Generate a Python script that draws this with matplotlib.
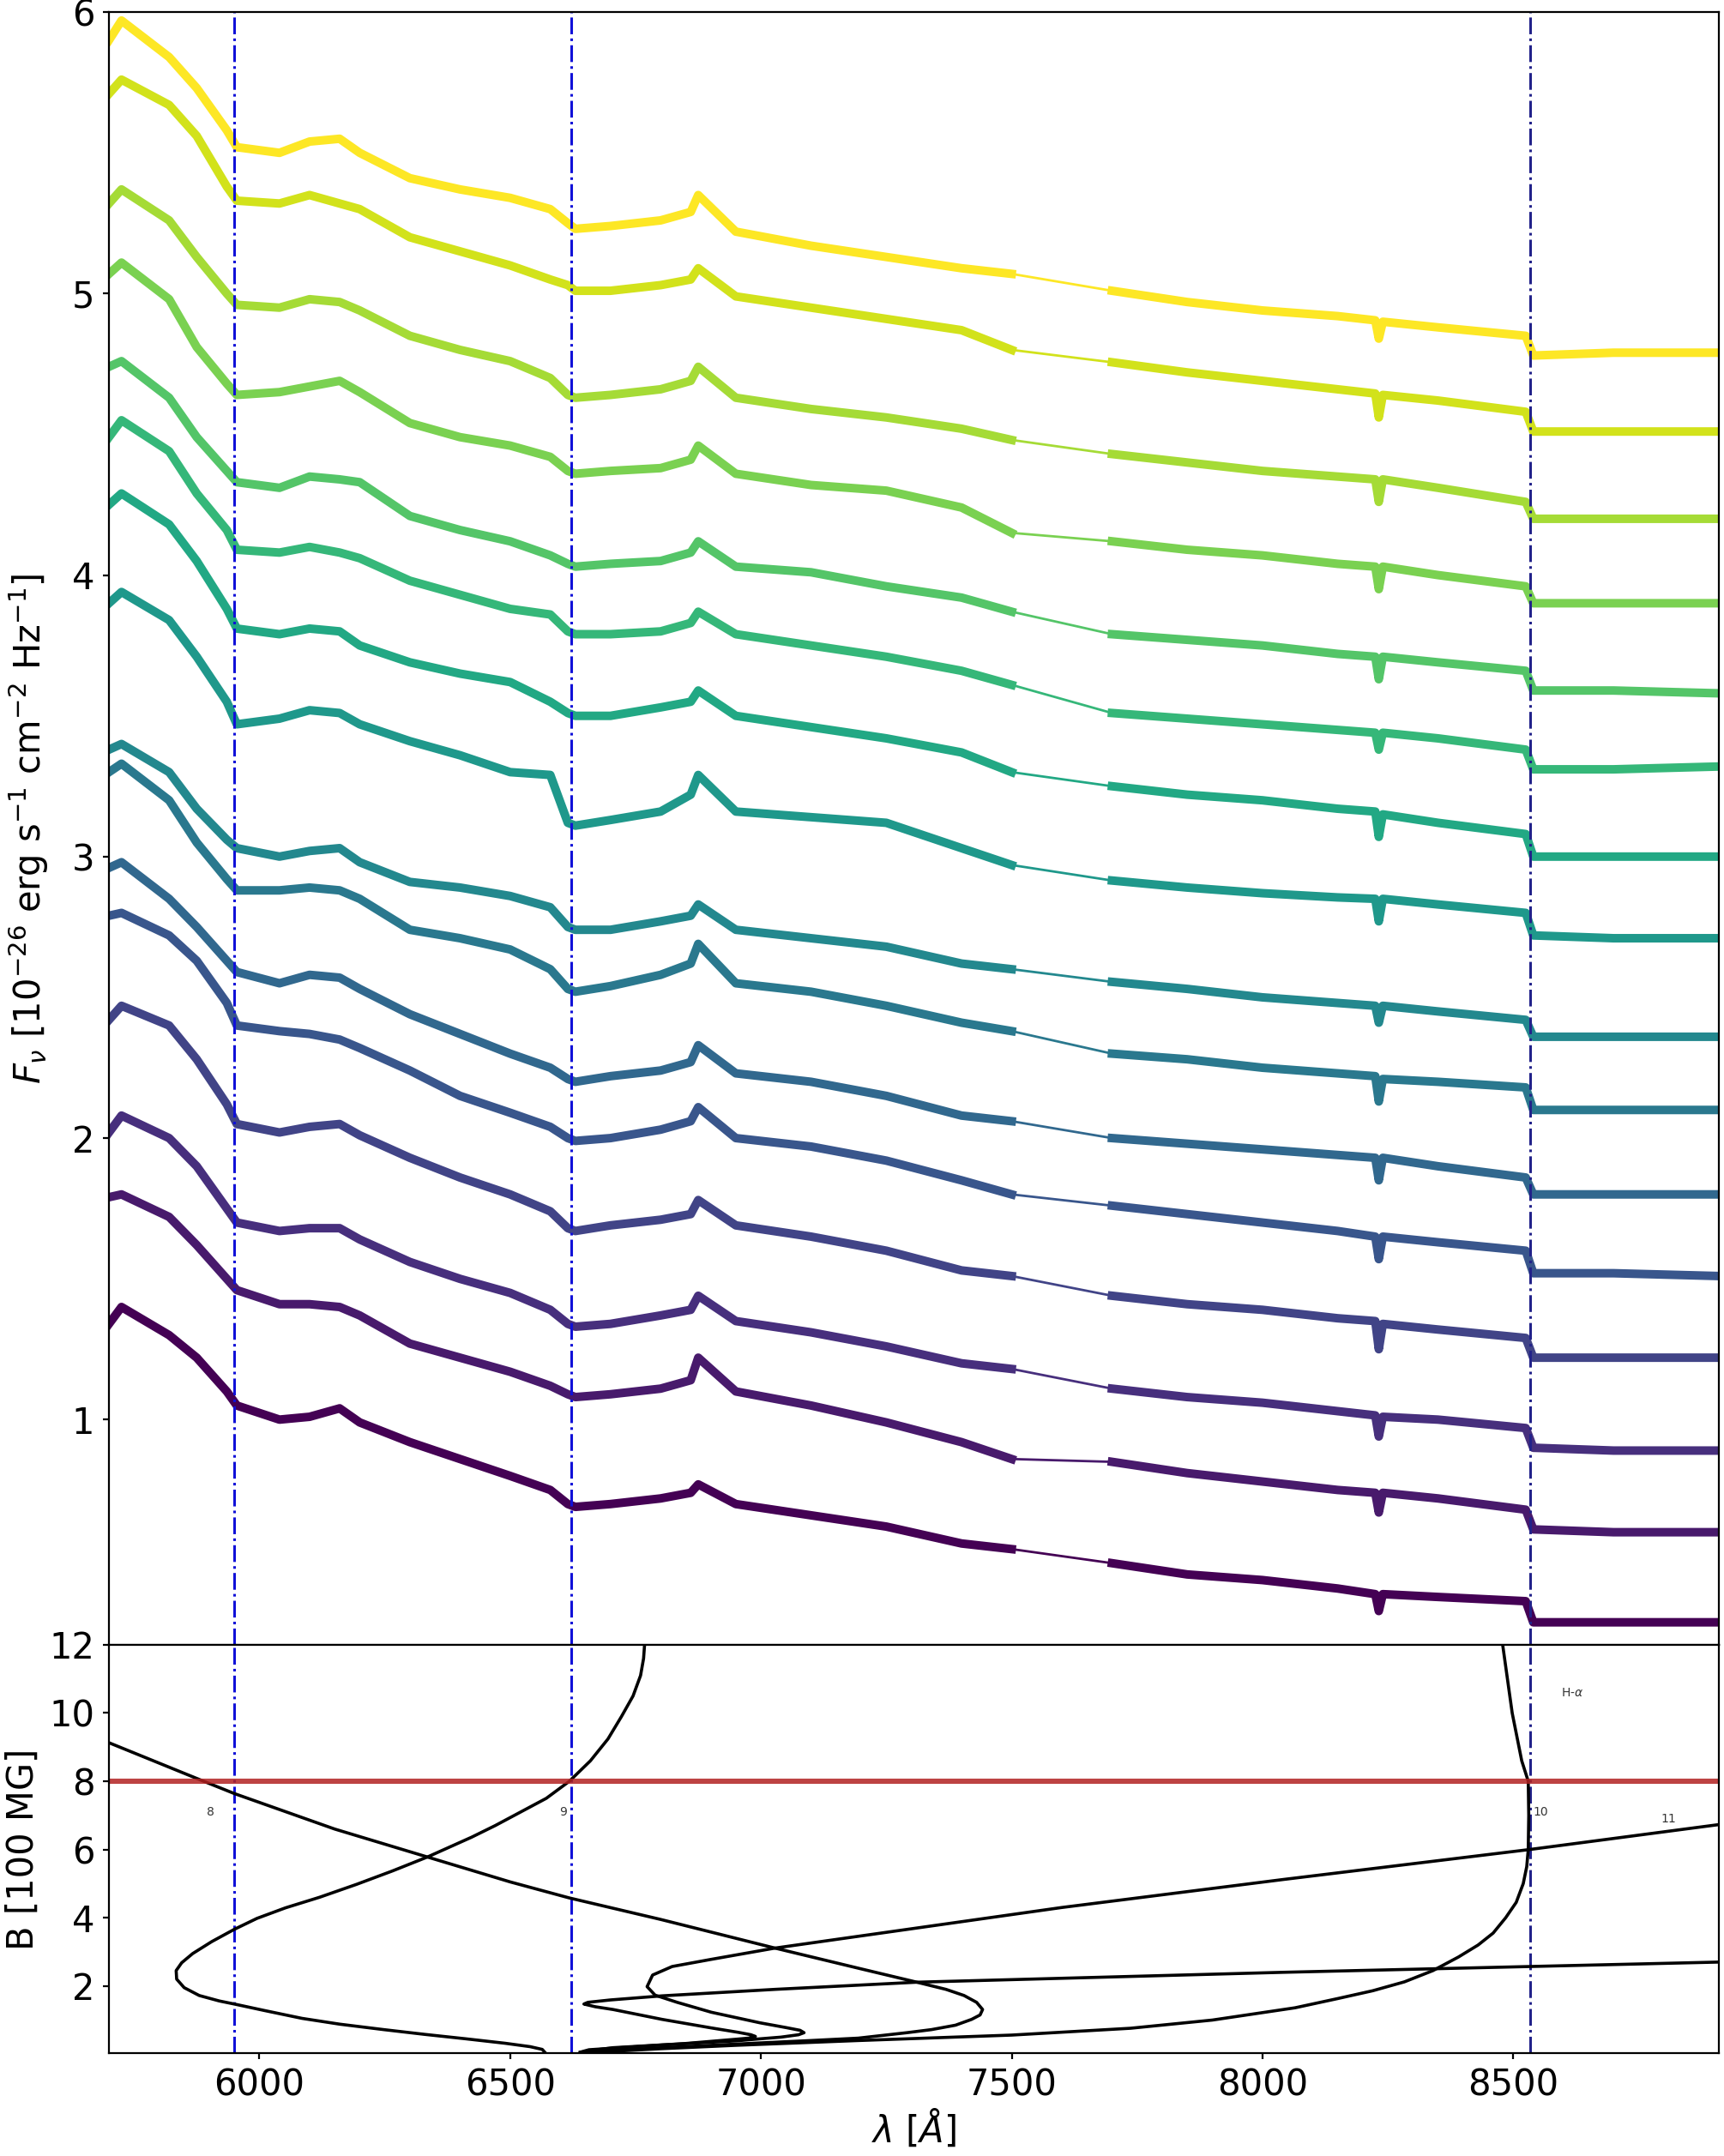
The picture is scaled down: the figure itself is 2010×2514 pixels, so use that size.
import matplotlib.pyplot as plt
import numpy as np

# wavelength grid of the spectra [A]
wave = [5700, 5725, 5820, 5875, 5935, 5955, 6040, 6100, 6160, 6200, 6300, 6400,
        6500, 6580, 6615, 6630, 6700, 6800, 6860, 6875, 6950, 7100, 7250, 7400,
        7500, 7700, 7850, 8000, 8150, 8225, 8232, 8240, 8350, 8525, 8540, 8700, 8910]

# offset spectra, bottom (first) to top (last)
s0 = [1.34, 1.40, 1.30, 1.22, 1.10, 1.05, 1.00, 1.01, 1.04, 0.99, 0.92, 0.86, 0.80, 0.75, 0.70, 0.69, 0.70, 0.72, 0.74, 0.77, 0.70, 0.66, 0.62, 0.56, 0.54, 0.49, 0.45, 0.43, 0.40, 0.38, 0.32, 0.38, 0.37, 0.355, 0.28, 0.28, 0.28]
s1 = [1.79, 1.80, 1.72, 1.62, 1.50, 1.46, 1.41, 1.41, 1.40, 1.37, 1.27, 1.22, 1.17, 1.12, 1.09, 1.08, 1.09, 1.11, 1.14, 1.22, 1.10, 1.05, 0.99, 0.92, 0.86, 0.85, 0.81, 0.78, 0.75, 0.74, 0.67, 0.74, 0.72, 0.68, 0.61, 0.60, 0.60]
s2 = [2.02, 2.08, 2.00, 1.90, 1.75, 1.70, 1.67, 1.68, 1.68, 1.64, 1.56, 1.50, 1.45, 1.39, 1.34, 1.33, 1.34, 1.37, 1.39, 1.44, 1.35, 1.31, 1.26, 1.20, 1.18, 1.11, 1.08, 1.06, 1.03, 1.015, 0.94, 1.01, 1.00, 0.97, 0.90, 0.89, 0.89]
s3 = [2.42, 2.47, 2.40, 2.28, 2.12, 2.05, 2.02, 2.04, 2.05, 2.01, 1.93, 1.86, 1.80, 1.74, 1.68, 1.67, 1.69, 1.71, 1.73, 1.78, 1.69, 1.65, 1.60, 1.53, 1.51, 1.44, 1.41, 1.39, 1.36, 1.35, 1.25, 1.34, 1.32, 1.29, 1.22, 1.22, 1.22]
s4 = [2.79, 2.80, 2.72, 2.63, 2.48, 2.40, 2.38, 2.37, 2.35, 2.32, 2.24, 2.15, 2.09, 2.04, 2.00, 1.99, 2.00, 2.03, 2.06, 2.11, 2.00, 1.97, 1.92, 1.85, 1.80, 1.76, 1.73, 1.70, 1.67, 1.65, 1.57, 1.65, 1.63, 1.60, 1.52, 1.52, 1.51]
s5 = [2.96, 2.98, 2.85, 2.75, 2.63, 2.59, 2.55, 2.58, 2.57, 2.53, 2.44, 2.37, 2.30, 2.25, 2.21, 2.20, 2.22, 2.24, 2.27, 2.33, 2.23, 2.20, 2.15, 2.08, 2.06, 2.00, 1.98, 1.96, 1.94, 1.93, 1.85, 1.93, 1.90, 1.86, 1.80, 1.80, 1.80]
s6 = [3.30, 3.33, 3.20, 3.05, 2.92, 2.88, 2.88, 2.89, 2.88, 2.85, 2.74, 2.71, 2.67, 2.60, 2.53, 2.52, 2.54, 2.58, 2.62, 2.69, 2.55, 2.52, 2.47, 2.41, 2.38, 2.30, 2.28, 2.25, 2.23, 2.22, 2.13, 2.21, 2.20, 2.18, 2.10, 2.10, 2.10]
s7 = [3.38, 3.40, 3.30, 3.17, 3.06, 3.03, 3.00, 3.02, 3.03, 2.98, 2.91, 2.89, 2.86, 2.82, 2.75, 2.74, 2.74, 2.77, 2.79, 2.83, 2.74, 2.71, 2.68, 2.62, 2.60, 2.555, 2.53, 2.50, 2.48, 2.47, 2.41, 2.47, 2.45, 2.42, 2.36, 2.36, 2.36]
s8 = [3.90, 3.94, 3.84, 3.71, 3.55, 3.47, 3.49, 3.52, 3.51, 3.47, 3.41, 3.36, 3.30, 3.29, 3.12, 3.11, 3.13, 3.16, 3.22, 3.29, 3.16, 3.14, 3.12, 3.03, 2.97, 2.915, 2.89, 2.87, 2.855, 2.85, 2.77, 2.85, 2.83, 2.80, 2.72, 2.71, 2.71]
s9 = [4.25, 4.29, 4.18, 4.05, 3.88, 3.81, 3.79, 3.81, 3.80, 3.75, 3.69, 3.65, 3.62, 3.55, 3.51, 3.50, 3.50, 3.53, 3.55, 3.59, 3.50, 3.46, 3.42, 3.37, 3.30, 3.25, 3.22, 3.20, 3.17, 3.16, 3.07, 3.15, 3.12, 3.08, 3.00, 3.00, 3.00]
s10 = [4.49, 4.55, 4.44, 4.29, 4.16, 4.09, 4.08, 4.10, 4.08, 4.06, 3.98, 3.93, 3.88, 3.86, 3.80, 3.79, 3.79, 3.80, 3.83, 3.87, 3.79, 3.75, 3.71, 3.66, 3.61, 3.51, 3.49, 3.47, 3.45, 3.44, 3.38, 3.44, 3.42, 3.38, 3.31, 3.31, 3.32]
s11 = [4.74, 4.76, 4.63, 4.49, 4.37, 4.33, 4.31, 4.35, 4.34, 4.33, 4.21, 4.16, 4.12, 4.07, 4.04, 4.03, 4.04, 4.05, 4.08, 4.12, 4.03, 4.01, 3.96, 3.92, 3.87, 3.79, 3.77, 3.75, 3.72, 3.71, 3.63, 3.71, 3.69, 3.66, 3.59, 3.59, 3.58]
s12 = [5.07, 5.11, 4.98, 4.81, 4.68, 4.64, 4.65, 4.67, 4.69, 4.65, 4.54, 4.49, 4.46, 4.42, 4.37, 4.36, 4.37, 4.38, 4.41, 4.46, 4.36, 4.32, 4.30, 4.24, 4.15, 4.12, 4.09, 4.07, 4.04, 4.03, 3.95, 4.03, 4.00, 3.96, 3.90, 3.90, 3.90]
s13 = [5.32, 5.37, 5.26, 5.13, 5.00, 4.96, 4.95, 4.98, 4.97, 4.94, 4.85, 4.80, 4.76, 4.70, 4.64, 4.63, 4.64, 4.66, 4.69, 4.74, 4.63, 4.59, 4.56, 4.52, 4.48, 4.43, 4.40, 4.37, 4.35, 4.34, 4.26, 4.34, 4.31, 4.26, 4.20, 4.20, 4.20]
s14 = [5.71, 5.76, 5.67, 5.56, 5.38, 5.33, 5.32, 5.35, 5.32, 5.30, 5.20, 5.15, 5.10, 5.05, 5.03, 5.01, 5.01, 5.03, 5.05, 5.09, 4.99, 4.95, 4.91, 4.87, 4.80, 4.756, 4.72, 4.69, 4.66, 4.645, 4.56, 4.64, 4.62, 4.58, 4.51, 4.51, 4.51]
s15 = [5.90, 5.97, 5.84, 5.73, 5.58, 5.52, 5.50, 5.54, 5.55, 5.50, 5.41, 5.37, 5.34, 5.30, 5.25, 5.23, 5.24, 5.26, 5.29, 5.35, 5.22, 5.17, 5.13, 5.09, 5.07, 5.01, 4.97, 4.94, 4.92, 4.905, 4.84, 4.90, 4.88, 4.85, 4.78, 4.79, 4.79]
spectra = [s0, s1, s2, s3, s4, s5, s6, s7, s8, s9, s10, s11, s12, s13, s14, s15]

# marked wavelengths (dash-dot lines)
mark_wl = [5950, 6622, 8533]
b_obs = 8.0

# stationary line curves, B [100 MG] vs wavelength
c8_wl = [5700, 5889, 5950, 6150, 6335, 6500, 6618, 6800, 7028, 7200, 7311, 7369, 7405, 7430, 7442, 7437, 7420, 7388, 7340, 7291, 7194, 7100, 6998, 6900, 6803, 6720, 6657, 6640]
c8_b = [9.13, 8.0, 7.64, 6.6, 5.78, 5.05, 4.58, 3.95, 3.11, 2.5, 2.11, 1.90, 1.72, 1.52, 1.31, 1.15, 1.02, 0.85, 0.72, 0.63, 0.47, 0.40, 0.33, 0.26, 0.19, 0.12, 0.08, 0.05]
c9_wl = [6768, 6766, 6760, 6745, 6722, 6695, 6660, 6618, 6572, 6521, 6470, 6423, 6335, 6265, 6194, 6120, 6052, 5995, 5950, 5905, 5867, 5845, 5834, 5835, 5850, 5880, 5920, 5950, 6010, 6085, 6160, 6248, 6330, 6412, 6490, 6540, 6564, 6570]
c9_b = [12.0, 11.6, 11.1, 10.5, 9.9, 9.24, 8.6, 8.0, 7.5, 7.1, 6.7, 6.36, 5.78, 5.37, 4.98, 4.6, 4.29, 3.98, 3.66, 3.3, 2.95, 2.68, 2.45, 2.2, 1.95, 1.72, 1.56, 1.47, 1.28, 1.05, 0.88, 0.72, 0.58, 0.45, 0.32, 0.22, 0.14, 0.04]
c10_wl = [8479, 8498, 8517, 8530, 8531, 8530, 8527, 8520, 8506, 8485, 8460, 8430, 8391, 8340, 8283, 8220, 8150, 8065, 7900, 7737, 7500, 7194, 6950, 6800, 6662]
c10_b = [12.0, 10.0, 8.6, 8.0, 7.0, 6.0, 5.5, 5.0, 4.45, 4.0, 3.55, 3.2, 2.85, 2.45, 2.12, 1.86, 1.63, 1.36, 1.0, 0.76, 0.56, 0.40, 0.26, 0.16, 0.05]
c11_wl = [8910, 8533, 8041, 7600, 7028, 6901, 6823, 6784, 6773, 6789, 6833, 6901, 6998, 7050, 7078, 7086, 7075, 7040, 6998, 6950, 6803, 6657, 6640]
c11_b = [6.73, 6.0, 5.12, 4.30, 3.11, 2.78, 2.57, 2.32, 1.98, 1.73, 1.52, 1.23, 0.92, 0.78, 0.70, 0.63, 0.57, 0.50, 0.45, 0.39, 0.27, 0.13, 0.06]
c12_wl = [8910, 8041, 7311, 7028, 6803, 6700, 6655, 6647, 6670, 6705, 6803, 6901, 6955, 6980, 6989, 6975, 6952, 6847, 6705, 6657, 6640]
c12_b = [2.70, 2.40, 2.11, 1.90, 1.71, 1.59, 1.52, 1.47, 1.39, 1.31, 1.02, 0.77, 0.64, 0.57, 0.52, 0.47, 0.44, 0.31, 0.19, 0.10, 0.05]
curves = [(c8_wl, c8_b), (c9_wl, c9_b), (c10_wl, c10_b), (c11_wl, c11_b), (c12_wl, c12_b)]

labels = ['8', '9', '10', '11', 'H-$\\alpha$']
label_wl = [5895, 6598, 8540, 8795, 8595]
label_b = [7.1, 7.1, 7.1, 6.9, 10.6]

fig = plt.figure(figsize=(10.05, 12.57), dpi=200)
ax1 = fig.add_axes([0.0632, 0.2371, 0.9338, 0.7573])
ax2 = fig.add_axes([0.0632, 0.0477, 0.9338, 0.1894], sharex=ax1)

colors = plt.cm.viridis(np.linspace(0, 1, len(spectra)))
i_gap = wave.index(7500)
for flux, c in zip(spectra, colors):
    ax1.plot(wave[:i_gap + 1], flux[:i_gap + 1], color=c, lw=3.6)
    ax1.plot(wave[i_gap:i_gap + 2], flux[i_gap:i_gap + 2], color=c, lw=1.0)
    ax1.plot(wave[i_gap + 1:], flux[i_gap + 1:], color=c, lw=3.6)

line_cols = ['#1010d8', '#1010d8', '#22228a']
for ax in (ax1, ax2):
    for w, c in zip(mark_wl, line_cols):
        ax.axvline(w, color=c, ls='-.', lw=1.1)

for wl, b in curves:
    ax2.plot(wl, b, color='black', lw=1.3)
ax2.axhline(b_obs, color='firebrick', lw=2.2, alpha=0.85)
for t, x, y in zip(labels, label_wl, label_b):
    ax2.text(x, y, t, fontsize=5, color='#333333', va='center')

ax1.set_xlim(5700, 8910)
ax1.set_ylim(0.2, 6.0)
ax2.set_ylim(0.03, 12)
ax1.set_yticks([1, 2, 3, 4, 5, 6])
ax2.set_yticks([2, 4, 6, 8, 10, 12])
ax2.set_xticks([6000, 6500, 7000, 7500, 8000, 8500])
ax1.tick_params(axis='x', bottom=False, labelbottom=False)
for ax in (ax1, ax2):
    ax.tick_params(labelsize=15, length=2.5)

ax1.set_ylabel(r'$F_{\nu}$ [10$^{-26}$ erg s$^{-1}$ cm$^{-2}$ Hz$^{-1}$]', fontsize=15)
ax2.set_ylabel('B [100 MG]', fontsize=15)
ax1.yaxis.set_label_coords(-0.036, 0.5)
ax2.yaxis.set_label_coords(-0.042, 0.5)
ax2.set_xlabel(r'$\lambda$ [$\AA$]', fontsize=15, labelpad=2)

fig.savefig('out.png', dpi=200)
